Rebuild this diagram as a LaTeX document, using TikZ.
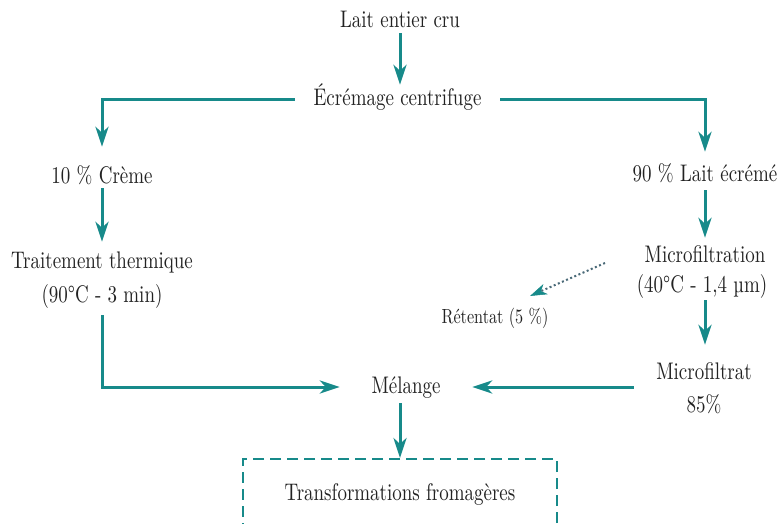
\documentclass[tikz,border=0pt]{standalone}
\usepackage{fontspec}
\usepackage{graphicx}
\newfontfamily\dfont{lmroman10-regular.otf}
\usetikzlibrary{arrows.meta,calc}
\definecolor{tealc}{HTML}{178A8A}
\definecolor{txtc}{HTML}{222222}
\definecolor{dotc}{HTML}{4A6A78}
\newcommand{\sq}[1]{\scalebox{0.79}[1]{#1}}
\tikzset{
  txt/.style={font=\dfont\fontsize{24}{28}\selectfont, text=txtc, inner sep=0pt,
    text height=17pt, text depth=5pt, anchor=base},
  smalltxt/.style={font=\dfont\fontsize{20.5}{24}\selectfont, text=txtc, inner sep=0pt,
    text height=15pt, text depth=5pt, anchor=base},
  conn/.style={draw=tealc, line width=3pt,
    -{Stealth[length=20pt,width=13pt,inset=6pt]}},
  dotconn/.style={draw=dotc, line width=2pt, dash pattern=on 2pt off 2.5pt,
    -{Stealth[length=17pt,width=11pt,inset=5pt,color=tealc,fill=tealc,line width=0.5pt]}},
  fbox/.style={draw=tealc, line width=2.2pt, dash pattern=on 11pt off 6pt,
    minimum width=314pt, minimum height=90pt, anchor=north, inner sep=0pt}
}
\begin{document}
\begin{tikzpicture}[x=1pt,y=-1pt]
\useasboundingbox[fill=white] (0,0) rectangle (782,524);

\node[txt] (lait) at (400,28) {\sq{Lait entier cru}};
\node[txt, minimum width=205pt] (ecr) at (397.5,106) {\sq{Écrémage centrifuge}};
\node[txt] (creme) at (102,183) {\sq{10 \% Crème}};
\node[txt] (lecr) at (705,182) {\sq{90 \% Lait écrémé}};
\node[txt] (trait1) at (102,268) {\sq{Traitement thermique}};
\node[txt] (trait2) at (102,302) {\sq{(90°C - 3 min)}};
\node[txt] (mfx1) at (705,262) {\sq{Microfiltration}};
\node[txt] (mfx2) at (702,292) {\sq{(40°C - 1,4 µm)}};
\node[smalltxt] (ret) at (495,323) {\sq{Rétentat (5 \%)}};
\node[txt, minimum width=140pt] (mfat1) at (704,379) {\sq{Microfiltrat}};
\node[txt] (mfat2) at (704,412) {\sq{85\%}};
\node[txt, minimum width=132pt] (mel) at (406,393) {\sq{Mélange}};
\node[fbox] (tfbox) at (400,458) {};
\node[txt] (tf) at (400,500) {\sq{Transformations fromagères}};

\coordinate (dots) at (605,263);
\coordinate (dote) at (530,296);

\draw[conn, shorten >=4pt] (lait.south) -- (ecr.north -| lait.south);
\draw[conn, shorten >=19pt] (ecr.west) -| (creme.north);
\draw[conn, shorten >=13pt] (ecr.east) -| (lecr.north);
\draw[conn, shorten >=9pt] (creme.south) -- (trait1.north);
\draw[conn, shorten >=7pt, shorten <=3pt] (lecr.south) -- (mfx1.north);
\draw[conn, shorten >=17pt, shorten <=3pt] (mfx2.south -| mfx1.south) -- (mfat1.north -| mfx1.south);
\draw[conn, shorten <=8pt] (trait2.south) |- (mel.west);
\draw[conn] (mfat1.west |- mel.east) -- (mel.east);
\draw[conn, shorten <=5pt] (mel.south -| tfbox.north) -- (tfbox.north);
\draw[dotconn] (dots) -- (dote);
\end{tikzpicture}
\end{document}
